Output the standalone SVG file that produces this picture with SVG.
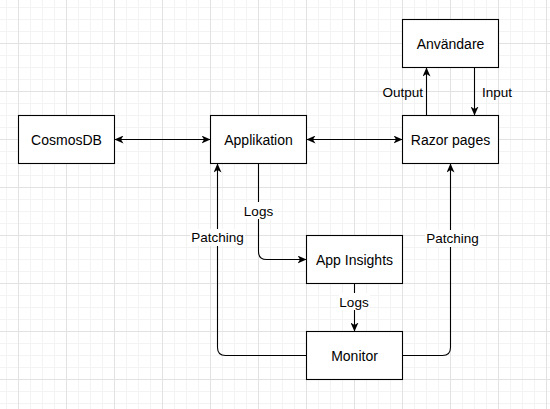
<svg xmlns="http://www.w3.org/2000/svg" width="550" height="409" viewBox="0 0 550 409">
  <style>
    .box { fill: #ffffff; stroke: #000000; stroke-width: 1.1; }
    .ntext { font-family: "Liberation Sans", Arial, sans-serif; font-size: 14px; fill: #000000; text-anchor: middle; }
    .ltext { font-family: "Liberation Sans", Arial, sans-serif; font-size: 13.5px; fill: #000000; }
    .edge { fill: none; stroke: #000000; stroke-width: 1.1; }
    .lbg { fill: #ffffff; }
  </style>
  <defs>
    <pattern id="grid" patternUnits="userSpaceOnUse" x="18" y="43" width="48" height="48">
      <path d="M12.5,0 V48 M24.5,0 V48 M36.5,0 V48 M0,12.5 H48 M0,24.5 H48 M0,36.5 H48" stroke="#f3f3f3" stroke-width="1" fill="none"/>
      <path d="M0.5,0 V48 M0,0.5 H48" stroke="#e2e2e2" stroke-width="1" fill="none"/>
    </pattern>
    <marker id="arr" viewBox="0 0 9 8" refX="9" refY="4" markerWidth="9" markerHeight="8" markerUnits="userSpaceOnUse" orient="auto-start-reverse">
      <path d="M0,0 L9,4 L0,8 L2.5,4 Z" fill="#000000"/>
    </marker>
  </defs>
  <rect x="0" y="0" width="550" height="409" fill="#ffffff"/>
  <rect x="0" y="0" width="550" height="409" fill="url(#grid)"/>

  <g id="connectors">
    <path class="edge" d="M114.5,139.5 H210.5" marker-start="url(#arr)" marker-end="url(#arr)"/>
    <path class="edge" d="M306.5,139.5 H402.5" marker-start="url(#arr)" marker-end="url(#arr)"/>
    <path class="edge" d="M426.5,115.5 V67.5" marker-end="url(#arr)"/>
    <path class="edge" d="M474.5,67.5 V115.5" marker-end="url(#arr)"/>
    <path class="edge" d="M258.5,163.5 V251.5 Q258.5,259.5 266.5,259.5 H306.5" marker-end="url(#arr)"/>
    <path class="edge" d="M354.5,283.5 V331.5" marker-end="url(#arr)"/>
    <path class="edge" d="M306.5,355.5 H225.5 Q217.5,355.5 217.5,347.5 V163.5" marker-end="url(#arr)"/>
    <path class="edge" d="M402.5,355.5 H442.5 Q450.5,355.5 450.5,347.5 V163.5" marker-end="url(#arr)"/>

    <text class="ltext" x="423" y="97" text-anchor="end">Output</text>
    <text class="ltext" x="482" y="97" text-anchor="start">Input</text>
    <rect class="lbg" x="243" y="202" width="31" height="17"/>
    <text class="ltext" x="258.5" y="215.5" text-anchor="middle">Logs</text>
    <rect class="lbg" x="190" y="229" width="55" height="17"/>
    <text class="ltext" x="217.5" y="242" text-anchor="middle">Patching</text>
    <rect class="lbg" x="425" y="230" width="55" height="17"/>
    <text class="ltext" x="452.5" y="243" text-anchor="middle">Patching</text>
    <rect class="lbg" x="339" y="293" width="31" height="17"/>
    <text class="ltext" x="354" y="306.5" text-anchor="middle">Logs</text>
  </g>

  <g id="cosmosdb">
    <rect class="box" x="18.5" y="115.5" width="96" height="48"/>
    <text class="ntext" x="66.5" y="144.5">CosmosDB</text>
  </g>
  <g id="applikation">
    <rect class="box" x="210.5" y="115.5" width="96" height="48"/>
    <text class="ntext" x="258.5" y="144.5">Applikation</text>
  </g>
  <g id="razor-pages">
    <rect class="box" x="402.5" y="115.5" width="96" height="48"/>
    <text class="ntext" x="450.5" y="144.5">Razor pages</text>
  </g>
  <g id="anvandare">
    <rect class="box" x="402.5" y="19.5" width="96" height="48"/>
    <text class="ntext" x="450.5" y="48.5">Användare</text>
  </g>
  <g id="app-insights">
    <rect class="box" x="306.5" y="235.5" width="96" height="48"/>
    <text class="ntext" x="354.5" y="264.5">App Insights</text>
  </g>
  <g id="monitor">
    <rect class="box" x="306.5" y="331.5" width="96" height="48"/>
    <text class="ntext" x="354.5" y="360.5">Monitor</text>
  </g>
</svg>
